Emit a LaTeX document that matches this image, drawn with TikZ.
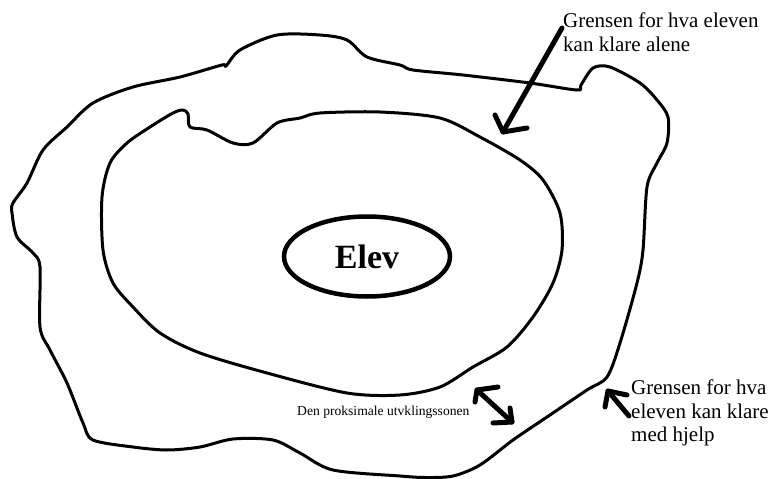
\documentclass[tikz,border=0pt]{standalone}
\usepackage{fontspec}
\setmainfont{Liberation Serif}
\usetikzlibrary{shapes.geometric}
\tikzset{
  outline/.style={line width=3pt, line join=round, line cap=round},
  pen/.style={line width=5pt, line join=round, line cap=round},
  lbl/.style={anchor=north west, inner sep=0pt, align=left, font=\fontsize{21}{23.5}\selectfont},
}
\begin{document}
\begin{tikzpicture}[x=1pt,y=-1pt]
\useasboundingbox (0,0) rectangle (772,479);
% outer boundary
\draw[outline] plot[smooth cycle, tension=0.5] coordinates {
(13,203) (27,183) (43,150) (67,127) (93,103) (133,87) (180,77) (222,65) (226,66) (240,50) (277,35) (320,35) (347,40) (367,57) (400,65) (413,70) (463,75) (530,83) (577,90) (581,85) (593,68) (610,67) (640,83) (657,100) (668,117) (667,143) (657,163) (647,187) (643,250) (637,283) (620,343) (607,377) (587,390) (547,417) (513,440) (480,465) (453,476) (425,477.5) (400,476) (333,470) (300,453) (273,440) (233,439) (200,447) (167,450) (133,447) (93,440) (83,423) (67,383) (50,350) (40,327) (40,267) (33,253) (17,237) (12,213)};
% inner boundary
\draw[outline] plot[smooth cycle, tension=0.5] coordinates {
(102,197) (110,163) (127,143) (150,127) (173,113) (183,110) (188,114) (190,127) (207,130) (233,143) (253,143) (277,123) (300,118) (320,113) (380,112) (440,118) (480,137) (520,160) (543,180) (560,213) (562,250) (553,283) (533,317) (507,347) (473,367) (440,387) (400,395) (347,393) (267,373) (200,353) (160,333) (133,307) (113,283) (103,250)};
% student
\node[draw, ellipse, line width=4.5pt, minimum width=166pt, minimum height=80pt, inner sep=0pt,
  font=\fontsize{34}{38}\selectfont\bfseries] (elev) at (367,256.5) {Elev};
% labels
\node[lbl] (alene) at (563,13) {Grensen for hva eleven\\kan klare alene};
\node[lbl] (hjelp) at (631,380) {Grensen for hva\\eleven kan klare\\med hjelp};
\node[anchor=base west, inner sep=0pt, font=\fontsize{13.6}{15}\selectfont] (sone) at (297,415) {Den proksimale utvklingssonen};
% arrow 1
\coordinate (a1s) at (562,28);
\coordinate (a1t) at (503,132);
\coordinate (a1l) at (495,115);
\coordinate (a1r) at (527,128);
\draw[pen] (a1s) -- (a1t);
\draw[pen] (a1l) -- (a1t) -- (a1r);
% double arrow
\coordinate (a2s) at (477,390);
\coordinate (a2sl) at (498,387);
\coordinate (a2sr) at (475,402);
\coordinate (a2t) at (512,422);
\coordinate (a2tl) at (510,408);
\coordinate (a2tr) at (493,423);
\draw[pen] (a2s) -- (a2t);
\draw[pen] (a2sl) -- (a2s) -- (a2sr);
\draw[pen] (a2tl) -- (a2t) -- (a2tr);
% arrow 3
\coordinate (a3t) at (608,391);
\coordinate (a3l) at (627,395);
\coordinate (a3r) at (605,407);
\coordinate (a3s) at (629,416);
\draw[pen] (a3l) -- (a3t) -- (a3r);
\draw[pen] (a3t) -- (a3s);
\end{tikzpicture}
\end{document}
